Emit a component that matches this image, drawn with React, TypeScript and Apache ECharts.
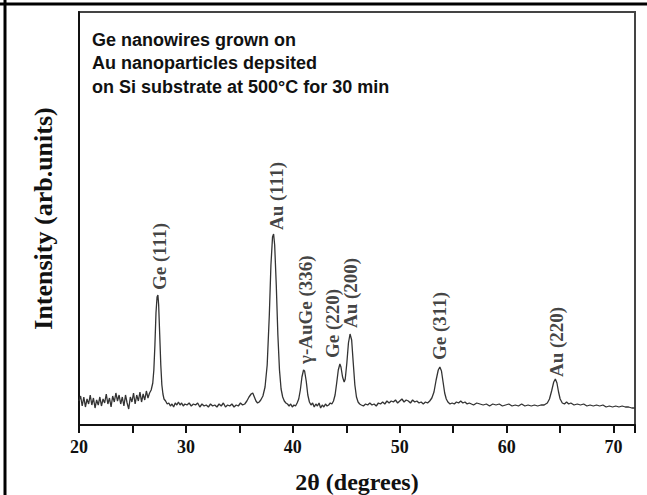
import React, { useEffect, useRef } from "react";
import * as echarts from "echarts";

// 2θ positions (degrees) of the read-off XRD trace
const twoTheta = [
  20.0, 20.15, 20.3, 20.45, 20.6, 20.75, 20.9, 21.05, 21.2, 21.35, 21.5, 21.65, 21.8, 21.95,
  22.1, 22.25, 22.4, 22.55, 22.7, 22.85, 23.0, 23.15, 23.3, 23.45, 23.6, 23.75, 23.9, 24.05,
  24.2, 24.35, 24.5, 24.65, 24.8, 24.95, 25.1, 25.25, 25.4, 25.55, 25.7, 25.85, 26.0, 26.15,
  26.3, 26.45, 26.6, 26.75, 26.9, 27.0, 27.1, 27.2, 27.3, 27.38, 27.45, 27.55, 27.65, 27.75,
  27.85, 27.95, 28.1, 28.25, 28.4, 28.55, 28.7, 28.85, 29.0, 29.15, 29.3, 29.45, 29.6, 29.75,
  29.9, 30.1, 30.3, 30.5, 30.7, 30.9, 31.1, 31.3, 31.5, 31.7, 31.9, 32.1, 32.3, 32.5, 32.7,
  32.9, 33.1, 33.3, 33.5, 33.7, 33.9, 34.1, 34.3, 34.5, 34.7, 34.9, 35.1, 35.3, 35.5, 35.7,
  35.9, 36.1, 36.25, 36.4, 36.55, 36.7, 36.85, 37.0, 37.2, 37.4, 37.6, 37.8, 37.95, 38.1,
  38.2, 38.3, 38.45, 38.6, 38.75, 38.9, 39.05, 39.2, 39.35, 39.5, 39.65, 39.8, 39.95, 40.1,
  40.25, 40.4, 40.55, 40.7, 40.85, 41.0, 41.1, 41.25, 41.4, 41.55, 41.7, 41.85, 42.0, 42.15,
  42.3, 42.45, 42.6, 42.75, 42.9, 43.05, 43.2, 43.35, 43.5, 43.65, 43.8, 43.95, 44.1, 44.25,
  44.4, 44.5, 44.65, 44.8, 44.9, 45.05, 45.2, 45.35, 45.5, 45.65, 45.8, 45.95, 46.1, 46.25,
  46.4, 46.6, 46.8, 47.0, 47.2, 47.4, 47.6, 47.8, 48.0, 48.2, 48.4, 48.6, 48.8, 49.0, 49.2,
  49.4, 49.6, 49.8, 50.0, 50.2, 50.4, 50.6, 50.8, 51.0, 51.2, 51.4, 51.6, 51.8, 52.0, 52.2,
  52.4, 52.6, 52.8, 53.0, 53.2, 53.4, 53.6, 53.75, 53.9, 54.05, 54.2, 54.35, 54.5, 54.7,
  54.9, 55.1, 55.3, 55.5, 55.7, 55.9, 56.1, 56.3, 56.5, 56.7, 56.9, 57.2, 57.5, 57.8, 58.1,
  58.4, 58.7, 59.0, 59.3, 59.6, 59.9, 60.2, 60.5, 60.8, 61.1, 61.4, 61.7, 62.0, 62.3, 62.6,
  62.9, 63.2, 63.5, 63.8, 64.0, 64.2, 64.4, 64.55, 64.7, 64.85, 65.0, 65.2, 65.4, 65.6, 65.8,
  66.0, 66.3, 66.6, 66.9, 67.2, 67.5, 67.8, 68.1, 68.4, 68.7, 69.0, 69.3, 69.6, 69.9, 70.2,
  70.5, 70.8, 71.1, 71.4, 71.7, 72.0,
];

// intensity (arb. units) read at each 2θ above
const intensity = [
  24, 29, 19, 28, 18, 26, 21, 30, 20, 27, 17, 25, 20, 28,
  19, 26, 22, 31, 21, 27, 18, 29, 23, 32, 24, 30, 21, 28,
  19, 30, 22, 16, 28, 23, 32, 21, 30, 24, 33, 23, 31, 25,
  34, 27, 32, 35, 42, 55, 80, 112, 128, 130, 120, 90, 60, 40,
  31, 26, 24, 21, 22, 19, 21, 18, 22, 20, 23, 20, 22, 19,
  21, 20, 22, 19, 21, 20, 22, 18, 21, 19, 20, 18, 21, 19, 20,
  18, 21, 19, 22, 18, 20, 19, 21, 18, 20, 19, 22, 20, 21, 24,
  28, 31, 32, 28, 24, 22, 23, 25, 29, 38, 60, 110, 160, 188,
  191, 180, 140, 90, 55, 36, 28, 24, 22, 21, 19, 21, 18, 20,
  19, 22, 26, 35, 48, 55, 54, 44, 30, 23, 20, 22, 18, 21,
  19, 22, 17, 20, 18, 21, 19, 20, 22, 21, 24, 30, 42, 55,
  61, 58, 48, 43, 46, 62, 82, 91, 85, 62, 40, 28, 23, 21,
  20, 19, 21, 20, 22, 20, 21, 19, 22, 21, 23, 21, 24, 22, 24,
  23, 25, 22, 24, 26, 23, 25, 24, 22, 25, 23, 24, 22, 23, 21,
  23, 22, 24, 27, 33, 45, 55, 58, 54, 43, 32, 26, 23, 21,
  22, 21, 23, 22, 24, 22, 23, 21, 22, 21, 20, 22, 21, 20, 21,
  19, 21, 20, 21, 19, 20, 21, 19, 20, 19, 21, 19, 20, 19, 20,
  19, 20, 20, 22, 26, 34, 43, 46, 42, 33, 26, 22, 21, 23, 21,
  22, 20, 21, 20, 21, 19, 20, 19, 20, 19, 20, 18, 19, 18, 19,
  18, 19, 18, 18, 17, 17,
];

// peak annotations: name, 2θ of the label, intensity at the label's foot
const peakNames = ["Ge (111)", "Au (111)", "γ-AuGe (336)", "Ge (220)", "Au (200)", "Ge (311)", "Au (220)"];
const peakTheta = [27.57, 38.5, 41.2, 43.74, 45.42, 53.74, 64.67];
const peakLabelBase = [135, 195, 61, 67, 97, 65, 48];

const noteLines = [
  "Ge nanowires grown on",
  "Au nanoparticles depsited",
  "on Si substrate at 500°C for 30 min",
];

const xTicksMin = 20;
const xTicksMax = 72;

export default function App() {
  const ref = useRef<HTMLDivElement>(null);

  useEffect(() => {
    if (!ref.current) return;
    const chart = echarts.init(ref.current, null, { renderer: "svg" });
    const serif = "'Liberation Serif', 'Times New Roman', serif";
    const sans = "'Liberation Sans', Arial, sans-serif";

    chart.setOption({
      animation: false,
      backgroundColor: "#ffffff",
      grid: {
        left: 79,
        right: 12,
        top: 12,
        bottom: 70,
        containLabel: false,
        outerBoundsMode: "none",
        show: true,
        borderColor: "#444",
        borderWidth: 2,
      },
      xAxis: {
        type: "value",
        min: xTicksMin,
        max: xTicksMax,
        interval: 10,
        name: "2θ (degrees)",
        nameLocation: "middle",
        nameGap: 45,
        nameTextStyle: { fontFamily: serif, fontWeight: "bold", fontSize: 24, color: "#111" },
        axisLine: { show: true, lineStyle: { color: "#111", width: 2 } },
        axisTick: { show: true, length: 8, lineStyle: { color: "#111", width: 2 } },
        minorTick: { show: true, splitNumber: 2, length: 8, lineStyle: { color: "#111", width: 2 } },
        splitLine: { show: false },
        minorSplitLine: { show: false },
        axisLabel: {
          margin: 13,
          fontFamily: serif,
          fontWeight: "bold",
          fontSize: 18,
          color: "#111",
          showMaxLabel: false,
          formatter: (v: number) => (v % 10 === 0 ? String(v) : ""),
        },
      },
      yAxis: {
        type: "value",
        min: 0,
        max: 413,
        name: "Intensity (arb.units)",
        nameLocation: "middle",
        nameGap: 23,
        nameTextStyle: { fontFamily: serif, fontWeight: "bold", fontSize: 26, color: "#111" },
        axisLine: { show: true, lineStyle: { color: "#111", width: 2 } },
        axisTick: { show: false },
        axisLabel: { show: false },
        splitLine: { show: false },
      },
      series: [
        {
          type: "line",
          data: twoTheta.map((t, i) => [t, intensity[i]]),
          showSymbol: false,
          symbol: "none",
          lineStyle: { color: "#333", width: 1.3 },
          silent: true,
        },
        {
          type: "scatter",
          symbolSize: 0,
          silent: true,
          data: peakNames.map((n, i) => ({ value: [peakTheta[i], peakLabelBase[i]], name: n })),
          label: {
            show: true,
            position: "inside",
            rotate: 90,
            align: "left",
            verticalAlign: "middle",
            formatter: (p: any) => p.name,
            fontFamily: serif,
            fontWeight: "bold",
            fontSize: 19,
            color: "#111",
          },
        },
      ],
      graphic: [
        {
          type: "line",
          shape: { x1: 0, y1: 4, x2: 647, y2: 4 },
          style: { stroke: "#000", lineWidth: 3 },
          silent: true,
        },
        {
          type: "line",
          shape: { x1: 5, y1: 0, x2: 5, y2: 495 },
          style: { stroke: "#000", lineWidth: 3 },
          silent: true,
        },
        {
          type: "text",
          left: 92,
          top: 28,
          style: {
            text: noteLines.join("\n"),
            fontFamily: sans,
            fontWeight: "bold",
            fontSize: 18,
            lineHeight: 23.5,
            fill: "#111",
          },
          silent: true,
        },
      ],
    });

    return () => chart.dispose();
  }, []);

  return (
    <div
      ref={ref}
      style={{ position: "absolute", left: 0, top: 0, width: 647, height: 495, background: "#fff" }}
    />
  );
}
